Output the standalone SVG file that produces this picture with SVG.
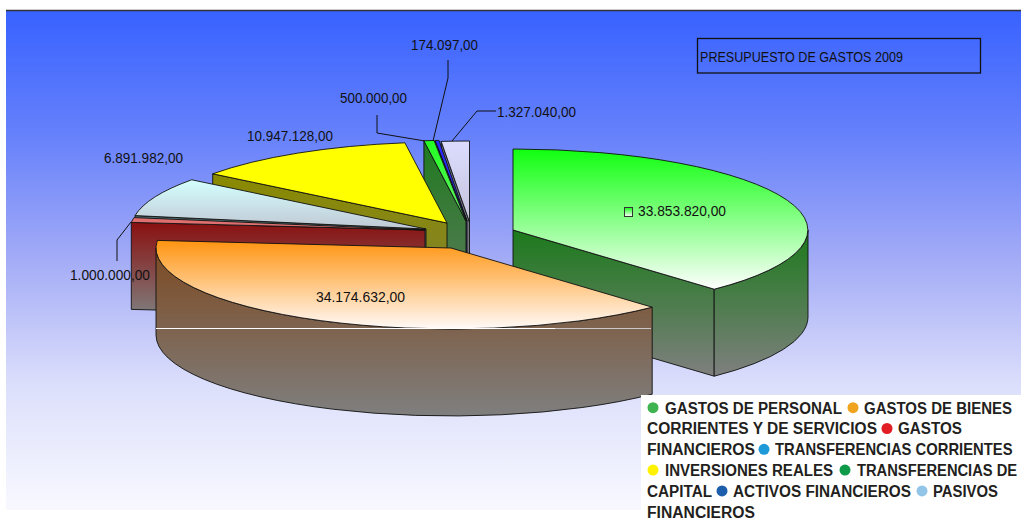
<svg xmlns="http://www.w3.org/2000/svg" width="1021" height="520" viewBox="0 0 1021 520">
<defs>
<linearGradient id="bg" x1="0" y1="0" x2="0" y2="1">
<stop offset="0" stop-color="#3862ff"/><stop offset="0.25" stop-color="#6681fb"/><stop offset="0.5" stop-color="#a4acf6"/><stop offset="0.75" stop-color="#dcdffb"/><stop offset="1" stop-color="#f8f9ff"/>
</linearGradient>
<linearGradient id="topGreen" x1="0" y1="0" x2="0" y2="1"><stop offset="0" stop-color="#10ff10"/><stop offset="1" stop-color="#ffffff"/></linearGradient>
<linearGradient id="sideGreen" x1="0" y1="0" x2="0" y2="1"><stop offset="0" stop-color="#1b7a1b"/><stop offset="1" stop-color="#7f7f7f"/></linearGradient>
<linearGradient id="topOrange" x1="0" y1="0" x2="0" y2="1"><stop offset="0" stop-color="#ff9410"/><stop offset="1" stop-color="#fffaf8"/></linearGradient>
<linearGradient id="sideOrange" x1="0" y1="0" x2="0" y2="1"><stop offset="0" stop-color="#7d4a22"/><stop offset="1" stop-color="#7f7f7f"/></linearGradient>
<linearGradient id="sideRed" x1="0" y1="0" x2="0" y2="1"><stop offset="0" stop-color="#8a1010"/><stop offset="1" stop-color="#7f7f7f"/></linearGradient>
<linearGradient id="topCyan" x1="0" y1="0" x2="0" y2="1"><stop offset="0" stop-color="#d4ffff"/><stop offset="1" stop-color="#c0c8d4"/></linearGradient>
<linearGradient id="sideCyan" x1="0" y1="0" x2="0" y2="1"><stop offset="0" stop-color="#4a7070"/><stop offset="1" stop-color="#7f7f7f"/></linearGradient>
<linearGradient id="sideYellow" x1="0" y1="0" x2="0" y2="1"><stop offset="0" stop-color="#8a8a00"/><stop offset="1" stop-color="#80803a"/></linearGradient>
<linearGradient id="topDG" x1="0" y1="0" x2="0" y2="1"><stop offset="0" stop-color="#22ff22"/><stop offset="1" stop-color="#66ee66"/></linearGradient>
<linearGradient id="sideDG" x1="0" y1="0" x2="0" y2="1"><stop offset="0" stop-color="#1f7a1f"/><stop offset="1" stop-color="#5f7a5f"/></linearGradient>
<linearGradient id="topPas" x1="0" y1="0" x2="0" y2="1"><stop offset="0" stop-color="#dcdcff"/><stop offset="1" stop-color="#c4c4dc"/></linearGradient>
<linearGradient id="sidePas" x1="0" y1="0" x2="0" y2="1"><stop offset="0" stop-color="#6a7088"/><stop offset="1" stop-color="#7f7f7f"/></linearGradient>
<linearGradient id="keyGreen" x1="0" y1="0" x2="0" y2="1"><stop offset="0" stop-color="#10ff10"/><stop offset="1" stop-color="#ffffff"/></linearGradient>
</defs>
<style>
.f{stroke:#111;stroke-width:0.9;stroke-linejoin:round}
.lbl{font-family:"Liberation Sans",Arial,sans-serif;font-size:14px;fill:#111}
.leg{font-family:"Liberation Sans",Arial,sans-serif;font-size:16px;font-weight:bold;fill:#231f20}
.ld{fill:none;stroke:#111;stroke-width:1}
</style>
<rect x="0" y="0" width="1021" height="520" fill="#ffffff"/>
<rect x="6" y="11" width="1015" height="499" fill="url(#bg)"/>
<line x1="6" y1="10.5" x2="1021" y2="10.5" stroke="#333" stroke-width="1.5"/>

<g id="title">
<rect x="697.5" y="38.5" width="283" height="34.5" fill="none" stroke="#111" stroke-width="1.3"/>
<text x="700" y="62" class="lbl" textLength="203" lengthAdjust="spacingAndGlyphs">PRESUPUESTO DE GASTOS 2009</text>
</g>

<g id="slice-pasivos">
<path class="f" d="M469.5,222 L441.2,141.4 L441.2,228.4 L469.5,309 Z" fill="url(#sidePas)"/>
<path class="f" d="M469.5,222 L441.2,141.4 A295 81 0 0 1 469.5,141 Z" fill="url(#topPas)"/>
</g>
<g id="slice-activos">
<path class="f" d="M467,221 L435.1,140.5 L435.1,227.5 L467,308 Z" fill="#34346e"/>
<path class="f" d="M467,221 L435.1,140.5 L439,140.4 Z" fill="#2a2aff"/>
</g>
<g id="slice-transf-capital">
<path class="f" d="M466,221 L423.9,140.8 L423.9,227.8 L466,308 Z" fill="url(#sideDG)"/>
<path class="f" d="M466,221 L423.9,140.8 A295 81 0 0 1 434.1,140.5 Z" fill="url(#topDG)"/>
</g>
<g id="slice-inversiones">
<path class="f" d="M447,223 L212.7,173.8 L212.7,260.8 L447,310 Z" fill="url(#sideYellow)"/>
<path class="f" d="M447,223 L212.7,173.8 A295 81 0 0 1 404.9,142.8 Z" fill="#ffff00"/>
</g>
<g id="slice-transf-corrientes">
<path class="f" d="M426,229 L135,215.6 L135,302.6 L426,316 Z" fill="url(#sideCyan)"/>
<path class="f" d="M426,229 L135,215.6 A295 81 0 0 1 191.7,179.8 Z" fill="url(#topCyan)"/>
</g>
<g id="slice-financieros">
<path class="f" d="M425,230 L131.3,222.4 L131.3,309.4 L425,317 Z" fill="url(#sideRed)"/>
<path class="f" d="M425,230 L131.3,222.4 A295 81 0 0 1 134,217.6 Z" fill="#e07070"/>
</g>
<g id="slice-personal">
<path class="f" d="M513,230 L714.2,289.2 L714.2,376.2 L513,317 Z" fill="url(#sideGreen)"/>
<path class="f" d="M808,230 A295 81 0 0 1 714.2,289.2 L714.2,376.2 A295 81 0 0 0 808,317 Z" fill="url(#sideGreen)"/>
<path class="f" d="M513,230 L513,149 A295 81 0 0 1 714.2,289.2 Z" fill="url(#topGreen)"/>
</g>
<g id="slice-bienes">
<path class="f" d="M652.2,307.2 A295 81 0 0 1 156,248 L156,335 A295 81 0 0 0 652.2,394.2 Z" fill="url(#sideOrange)"/>
<path class="f" d="M451,248 L652.2,307.2 A295 81 0 0 1 157.3,240.4 Z" fill="url(#topOrange)"/>
<line x1="156" y1="328.5" x2="555" y2="328.5" stroke="#ffffff" stroke-width="1"/>
<line x1="555" y1="328.5" x2="651" y2="328.5" stroke="#c8c8c8" stroke-width="1"/>
</g>

<g id="connectors">
<polyline class="ld" points="448,60 448,78 433,141"/>
<polyline class="ld" points="377,115 377,133 425,141"/>
<polyline class="ld" points="496,111 477,111 452,141"/>
<polyline class="ld" points="117,261 117,240 131,222"/>
</g>

<g id="labels">
<text class="lbl" x="411" y="50" textLength="67" lengthAdjust="spacingAndGlyphs">174.097,00</text>
<text class="lbl" x="340" y="103" textLength="67" lengthAdjust="spacingAndGlyphs">500.000,00</text>
<text class="lbl" x="497" y="117" textLength="79" lengthAdjust="spacingAndGlyphs">1.327.040,00</text>
<text class="lbl" x="247" y="141" textLength="86" lengthAdjust="spacingAndGlyphs">10.947.128,00</text>
<text class="lbl" x="104" y="163" textLength="79" lengthAdjust="spacingAndGlyphs">6.891.982,00</text>
<text class="lbl" x="70" y="280" textLength="80" lengthAdjust="spacingAndGlyphs">1.000.000,00</text>
<rect x="624.5" y="207.5" width="8" height="9" fill="url(#keyGreen)" stroke="#333" stroke-width="1"/>
<text class="lbl" x="638" y="216" textLength="88" lengthAdjust="spacingAndGlyphs">33.853.820,00</text>
<text class="lbl" x="316" y="302" textLength="89" lengthAdjust="spacingAndGlyphs">34.174.632,00</text>
</g>

<g id="legend">
<rect x="641" y="395" width="380" height="125" fill="#ffffff"/>
<circle cx="653" cy="407.7" r="5.5" fill="#3fb34f"/>
<text class="leg" x="665" y="413.5" textLength="177" lengthAdjust="spacingAndGlyphs">GASTOS DE PERSONAL</text>
<circle cx="853" cy="407.7" r="5.5" fill="#f0a31c"/>
<text class="leg" x="864" y="413.5" textLength="148" lengthAdjust="spacingAndGlyphs">GASTOS DE BIENES</text>
<text class="leg" x="647" y="434.3" textLength="230" lengthAdjust="spacingAndGlyphs">CORRIENTES Y DE SERVICIOS</text>
<circle cx="887" cy="428.5" r="5.5" fill="#e21d24"/>
<text class="leg" x="898" y="434.3" textLength="64" lengthAdjust="spacingAndGlyphs">GASTOS</text>
<text class="leg" x="647" y="455.1" textLength="108" lengthAdjust="spacingAndGlyphs">FINANCIEROS</text>
<circle cx="764" cy="449.3" r="5.5" fill="#1e9ad8"/>
<text class="leg" transform="translate(775,455.1) scale(0.925,1)" x="0" y="0">TRANSFERENCIAS CORRIENTES</text>
<circle cx="653" cy="470.1" r="5.5" fill="#fff200"/>
<text class="leg" x="665" y="475.9" textLength="168" lengthAdjust="spacingAndGlyphs">INVERSIONES REALES</text>
<circle cx="845" cy="470.1" r="5.5" fill="#0f9a4a"/>
<text class="leg" transform="translate(857,475.9) scale(0.92,1)" x="0" y="0">TRANSFERENCIAS DE</text>
<text class="leg" x="647" y="496.7" textLength="65" lengthAdjust="spacingAndGlyphs">CAPITAL</text>
<circle cx="722" cy="490.9" r="5.5" fill="#1c5eab"/>
<text class="leg" x="733" y="496.7" textLength="178" lengthAdjust="spacingAndGlyphs">ACTIVOS FINANCIEROS</text>
<circle cx="922" cy="490.9" r="5.5" fill="#93c5e8"/>
<text class="leg" x="933" y="496.7" textLength="65" lengthAdjust="spacingAndGlyphs">PASIVOS</text>
<text class="leg" x="647" y="517.5" textLength="108" lengthAdjust="spacingAndGlyphs">FINANCIEROS</text>
</g>
</svg>
